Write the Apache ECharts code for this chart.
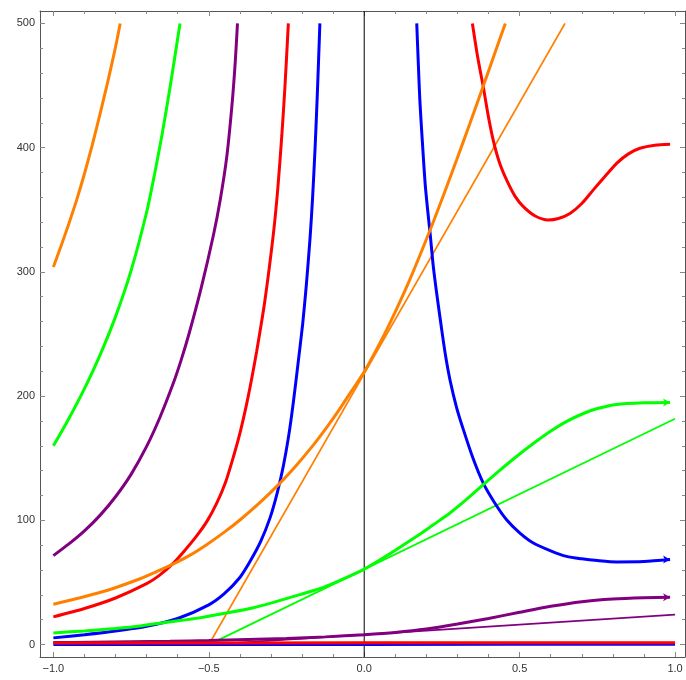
<!DOCTYPE html>
<html>
<head>
<meta charset="utf-8">
<script src="https://cdn.jsdelivr.net/npm/echarts@6/dist/echarts.min.js"></script>
<style>html,body{margin:0;padding:0;background:#fff}#c{width:686px;height:680px}</style>
</head>
<body>
<div id="c"></div>
<script>
// ---- data ----
const xMajor = [-1, -0.5, 0, 0.5, 1];
const xMinor = [-0.9,-0.8,-0.7,-0.6,-0.4,-0.3,-0.2,-0.1,0.1,0.2,0.3,0.4,0.6,0.7,0.8,0.9];
const yMajor = [0, 100, 200, 300, 400, 500];
const yMinor = [20,40,60,80,120,140,160,180,220,240,260,280,320,340,360,380,420,440,460,480];

// left-side pole branches
const orangePole = [[-1,304],[-0.975,321],[-0.95,339],[-0.925,358],[-0.9,379],[-0.875,402],[-0.85,427],[-0.825,453],[-0.8,481],[-0.785,500]];
const greenPole  = [[-1,160],[-0.95,182],[-0.9,206],[-0.85,233],[-0.8,264],[-0.75,301],[-0.7,348],[-0.675,378],[-0.65,411],[-0.625,448],[-0.6,488],[-0.5925,500]];
const purplePole = [[-1,71.6],[-0.95,81],[-0.9,91.5],[-0.85,104],[-0.8,119],[-0.75,137],[-0.7,159.5],[-0.657,183],[-0.614,210.5],[-0.589,229],[-0.564,249.8],[-0.525,286.5],[-0.485,329.7],[-0.463,358.3],[-0.442,393],[-0.425,435.5],[-0.415,468.5],[-0.4077,500]];
const redPole    = [[-1,22.3],[-0.9,29],[-0.8,37.5],[-0.7,49],[-0.66,55.5],[-0.619,64.3],[-0.58,75],[-0.539,87.5],[-0.505,99.6],[-0.474,114],[-0.447,130],[-0.421,151],[-0.4,170],[-0.378,194],[-0.362,214],[-0.346,236],[-0.32,276],[-0.292,331],[-0.278,367],[-0.265,410],[-0.255,449],[-0.244,500]];
const bluePoleL  = [[-1,5.4],[-0.9,8],[-0.8,11],[-0.7,14.8],[-0.6,21],[-0.5,32],[-0.45,41],[-0.4,54],[-0.367,67],[-0.333,83],[-0.303,102],[-0.28,122],[-0.26,144],[-0.243,168],[-0.228,195],[-0.213,226],[-0.198,258],[-0.186,290],[-0.174,328],[-0.166,360],[-0.158,400],[-0.151,442],[-0.144,490],[-0.1426,500]];
// right-side pole branches
const bluePoleR  = [[0.169,500],[0.174,468],[0.179,438],[0.187,405],[0.196,371],[0.204,350],[0.212,331],[0.222,305],[0.233,283],[0.249,254],[0.262,232],[0.276,213],[0.297,191],[0.319,173],[0.35,150],[0.383,130],[0.42,114],[0.458,100.5],[0.5,90],[0.544,81.8],[0.6,75.5],[0.651,71],[0.7,69],[0.75,67.6],[0.812,66.5],[0.9,66.8],[0.984,68.4]];
const redPoleR   = [[0.348,500],[0.365,473],[0.383,449],[0.398,427],[0.415,406],[0.435,388],[0.458,374],[0.485,361],[0.512,352.5],[0.55,345],[0.592,341.8],[0.625,343],[0.662,347],[0.7,355],[0.737,366],[0.775,377],[0.812,387.4],[0.85,395],[0.887,399.5],[0.935,402],[0.984,402.7]];
// smooth curves through x = 0
const orangeCurve = [[-1,32.4],[-0.914,37.7],[-0.828,43.5],[-0.721,53],[-0.67,58.5],[-0.619,64.3],[-0.56,72],[-0.507,80.4],[-0.45,90.5],[-0.399,100.5],[-0.335,114.5],[-0.271,130],[-0.22,143.8],[-0.164,160.6],[-0.12,175.1],[-0.078,190],[-0.04,204.4],[0,219.5],[0.04,237.7],[0.078,256.3],[0.145,292.8],[0.212,333.7],[0.255,361.7],[0.2975,390.2],[0.34,419.5],[0.383,449.6],[0.42,475.9],[0.454,500]];
const greenCurve  = [[-1,9.4],[-0.9,11],[-0.8,13],[-0.72,15],[-0.635,18],[-0.53,21.5],[-0.442,25.5],[-0.36,29.5],[-0.292,34],[-0.21,40],[-0.131,46],[-0.065,53],[0,60.7],[0.085,73.5],[0.169,87.1],[0.22,96],[0.276,105.9],[0.33,117],[0.383,128.7],[0.435,140],[0.49,151.4],[0.545,162],[0.598,171.5],[0.65,179.5],[0.705,186],[0.75,190],[0.812,193.3],[0.9,194.6],[0.984,194.9]];
const purpleCurve = [[-1,1.6],[-0.875,1.9],[-0.75,2.2],[-0.625,2.6],[-0.5,3.2],[-0.375,4],[-0.25,4.9],[-0.125,6.2],[0,8],[0.1,9.8],[0.2,12.5],[0.3,16.5],[0.4,21],[0.5,26],[0.6,30.8],[0.7,34.5],[0.8,36.6],[0.9,37.6],[0.984,38]];
const redCurve    = [[-1,1.3],[0,1.4],[1,1.5]];
const blueCurve   = [[-1,0.1],[0,0.15],[1,0.2]];
// tangent lines
const orangeLine = [[-0.5,0],[0.646,500]];
const greenLine  = [[-0.5,0],[1,181.8]];
const purpleLine = [[-0.5,0],[1,24.1]];
const zeroAxis   = [[0,-10],[0,510]];

const C = {orange:'#FF8000', green:'#00FF00', purple:'#800080', red:'#FF0000', blue:'#0000FF'};

function withArrow(arr){
  return arr.map((p,i)=> i===arr.length-1 ? {value:p, symbol:'arrow', symbolSize:[6,7], symbolRotate:-90} : {value:p, symbol:'none'});
}
function thick(data, color, z, arrow){
  return {type:'line', data: arrow ? withArrow(data) : data, smooth:0.25,
    showSymbol: !!arrow, symbol:'none', lineStyle:{color:color, width:3}, itemStyle:{color:color},
    z:z, silent:true, animation:false, clip:true};
}
function thin(data, color, z){
  return {type:'line', data:data, symbol:'none', lineStyle:{color:color, width:1.8}, z:z, silent:true, animation:false, clip:true};
}

const xmin=-1.043, xmax=1.032, ymin=-10, ymax=510;
const lab = {color:'#333', fontFamily:'Liberation Sans, Arial, sans-serif', fontSize:11};
function xAx(pos, vals, len, labels, line){
  return {type:'value', min:xmin, max:xmax, position:pos, splitLine:{show:false},
    axisLine:{show:line, onZero:false, lineStyle:{color:'#555', width:1}},
    axisTick:{show:true, inside:true, length:len, customValues:vals, lineStyle:{color:'#888'}},
    axisLabel:{show:labels, customValues:vals, margin:6, formatter:v=>v.toFixed(1).replace('-', '\u2212'), ...lab}};
}
function yAx(pos, vals, len, labels, line){
  return {type:'value', min:ymin, max:ymax, position:pos, splitLine:{show:false},
    axisLine:{show:line, onZero:false, lineStyle:{color:'#555', width:1}},
    axisTick:{show:true, inside:true, length:len, customValues:vals, lineStyle:{color:'#888'}},
    axisLabel:{show:labels, customValues:vals, margin:5, formatter:v=>String(v), ...lab}};
}

const chart = echarts.init(document.getElementById('c'), null, {renderer:'canvas'});
chart.setOption({
  animation:false,
  backgroundColor:'#fff',
  grid:{left:40, right:1, top:11, bottom:23, containLabel:false},
  xAxis:[xAx('bottom', xMajor, 5, true, true), xAx('bottom', xMinor, 3, false, false),
         xAx('top', xMajor, 5, false, true), xAx('top', xMinor, 3, false, false)],
  yAxis:[yAx('left', yMajor, 5, true, true), yAx('left', yMinor, 3, false, false),
         yAx('right', yMajor, 5, false, true), yAx('right', yMinor, 3, false, false)],
  series:[
    {type:'line', data:zeroAxis, symbol:'none', lineStyle:{color:'#000', width:1}, z:1, silent:true},
    thin(orangeLine, C.orange, 3),
    thin(greenLine, C.green, 3),
    thin(purpleLine, C.purple, 3),
    thick(orangePole, C.orange, 4),
    thick(greenPole, C.green, 4),
    thick(purplePole, C.purple, 4),
    thick(redPole, C.red, 4),
    thick(bluePoleL, C.blue, 4),
    thick(bluePoleR, C.blue, 4, true),
    thick(redPoleR, C.red, 4),
    thick(orangeCurve, C.orange, 4),
    thick(greenCurve, C.green, 4, true),
    thick(blueCurve, C.blue, 4),
    thick(purpleCurve, C.purple, 5, true),
    thick(redCurve, C.red, 6)
  ]
});
</script>
</body>
</html>
